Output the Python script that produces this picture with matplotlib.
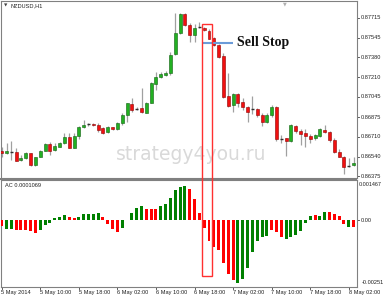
import matplotlib
matplotlib.use("Agg")
import matplotlib.pyplot as plt
from matplotlib.patches import Rectangle

# ---------------------------------------------------------------------------
# Data (NZDUSD H1, 5-8 May 2014)
# ---------------------------------------------------------------------------
opens = [0.86584, 0.86572, 0.86583, 0.86583, 0.86510, 0.86532, 0.86569, 0.86466,
         0.86541, 0.86591, 0.86645, 0.86597, 0.86625, 0.86654, 0.86709, 0.86617,
         0.86715, 0.86789, 0.86814, 0.86814, 0.86808, 0.86780, 0.86752, 0.86789,
         0.86775, 0.86823, 0.86893, 0.86986, 0.86944, 0.86949, 0.86912, 0.86997,
         0.87155, 0.87211, 0.87231, 0.87245, 0.87408, 0.87583, 0.87746, 0.87653,
         0.87569, 0.87635, 0.87631, 0.87603, 0.87541, 0.87484, 0.87391, 0.87053,
         0.86977, 0.87070, 0.87005, 0.86958, 0.86941, 0.86941, 0.86893, 0.86836,
         0.86893, 0.86958, 0.86688, 0.86696, 0.86673, 0.86802, 0.86760, 0.86738,
         0.86718, 0.86696, 0.86718, 0.86766, 0.86752, 0.86682, 0.86583, 0.86541,
         0.86462, 0.86470]
highs = [0.86622, 0.86659, 0.86676, 0.86611, 0.86555, 0.86578, 0.86574, 0.86541,
         0.86597, 0.86654, 0.86667, 0.86654, 0.86667, 0.86738, 0.86738, 0.86743,
         0.86800, 0.86851, 0.86828, 0.86825, 0.86823, 0.86794, 0.86800, 0.86794,
         0.86836, 0.86907, 0.86997, 0.87034, 0.86958, 0.87118, 0.87005, 0.87174,
         0.87259, 0.87259, 0.87265, 0.87428, 0.87757, 0.87757, 0.87757, 0.87668,
         0.87662, 0.87681, 0.87639, 0.87617, 0.87549, 0.87493, 0.87414, 0.87245,
         0.87081, 0.87076, 0.87034, 0.86969, 0.87053, 0.86949, 0.86907, 0.86907,
         0.86977, 0.86969, 0.86724, 0.86701, 0.86817, 0.86808, 0.86772, 0.86772,
         0.86732, 0.86732, 0.86780, 0.86808, 0.86760, 0.86696, 0.86603, 0.86547,
         0.86527, 0.86535]
lows = [0.86538, 0.86563, 0.86513, 0.86504, 0.86504, 0.86524, 0.86464, 0.86459,
        0.86535, 0.86586, 0.86555, 0.86591, 0.86620, 0.86648, 0.86611, 0.86611,
        0.86690, 0.86780, 0.86802, 0.86800, 0.86752, 0.86732, 0.86738, 0.86766,
        0.86766, 0.86808, 0.86836, 0.86921, 0.86935, 0.86912, 0.86907, 0.86992,
        0.87104, 0.87203, 0.87222, 0.87231, 0.87400, 0.87577, 0.87645, 0.87512,
        0.87512, 0.87631, 0.87605, 0.87533, 0.87478, 0.87372, 0.87034, 0.86958,
        0.86921, 0.86963, 0.86935, 0.86836, 0.86901, 0.86878, 0.86800, 0.86828,
        0.86878, 0.86676, 0.86654, 0.86549, 0.86667, 0.86743, 0.86639, 0.86620,
        0.86654, 0.86682, 0.86709, 0.86738, 0.86667, 0.86575, 0.86535, 0.86392,
        0.86456, 0.86462]
closes = [0.86568, 0.86584, 0.86583, 0.86507, 0.86532, 0.86569, 0.86470, 0.86535,
          0.86589, 0.86645, 0.86591, 0.86631, 0.86659, 0.86709, 0.86617, 0.86715,
          0.86794, 0.86808, 0.86814, 0.86808, 0.86766, 0.86743, 0.86789, 0.86775,
          0.86828, 0.86893, 0.86992, 0.86935, 0.86944, 0.86916, 0.86997, 0.87161,
          0.87217, 0.87237, 0.87245, 0.87400, 0.87583, 0.87746, 0.87653, 0.87569,
          0.87625, 0.87635, 0.87611, 0.87535, 0.87484, 0.87385, 0.87047, 0.86969,
          0.87070, 0.86997, 0.86958, 0.86921, 0.86941, 0.86893, 0.86836, 0.86893,
          0.86958, 0.86688, 0.86688, 0.86673, 0.86808, 0.86760, 0.86732, 0.86718,
          0.86688, 0.86724, 0.86772, 0.86752, 0.86682, 0.86583, 0.86541, 0.86456,
          0.86462, 0.86490]

# Accelerator Oscillator values and bar colours (g = up, r = down)
ac_values = [-0.000228, -0.000329, -0.000329, -0.000355, -0.000355, -0.000355,
             -0.000418, -0.000481, -0.000380, -0.000190, -0.000101, 0.000089,
             0.000139, 0.000190, 0.000139, 0.000089, 0.000114, 0.000241,
             0.000241, 0.000253, 0.000266, 0.000127, -0.000127, -0.000317,
             -0.000443, -0.000291, 0.000013, 0.000279, 0.000469, 0.000557,
             0.000431, 0.000418, 0.000418, 0.000532, 0.000621, 0.000849,
             0.001140, 0.001267, 0.001305, 0.001178, 0.000785, 0.000279,
             -0.000291, -0.000773, -0.001026, -0.001140, -0.001622, -0.002027,
             -0.002255, -0.002382, -0.002230, -0.001786, -0.001204, -0.000773,
             -0.000634, -0.000583, -0.000355, -0.000456, -0.000634, -0.000697,
             -0.000634, -0.000545, -0.000418, -0.000101, 0.000177, 0.000215,
             0.000177, 0.000304, 0.000317, 0.000253, 0.000152, -0.000127,
             -0.000253, -0.000253]
ac_colors = "rggrrrrrggggggrrgggggrrrrgggggrrrggggggrrrrrrrrrrgggggggrrrggggggrggrrrrg"

time_labels = ["5 May 2014", "5 May 10:00", "5 May 18:00", "6 May 02:00",
               "6 May 10:00", "6 May 18:00", "7 May 02:00", "7 May 10:00",
               "7 May 18:00", "8 May 02:00"]
time_label_bars = [0, 8, 16, 24, 32, 40, 48, 56, 64, 72]

price_ticks = [0.87715, 0.87545, 0.87380, 0.87210, 0.87045, 0.86875,
               0.86710, 0.86540, 0.86375]

sell_stop_price = 0.87504
sell_stop_bars = (41.7, 48.0)
box_bars = (41.5, 43.7)
box_top_price = 0.87659
box_bottom_ac = -0.002098

# ---------------------------------------------------------------------------
# Style
# ---------------------------------------------------------------------------
W, H = 383, 300
GREEN_BODY = "#22b022"
GREEN_EDGE = "#106010"
RED_BODY = "#f01010"
RED_EDGE = "#900000"
WICK = "#a0a0a0"
FRAME = "#808080"
AC_GREEN = "#008000"
AC_RED = "#ff0000"
AX_FONT = dict(fontsize=4.1, family="Liberation Sans", color="#202020")


def px_rect(x0, y0, x1, y1):
    """pixel box (top-left origin) -> figure fraction rect"""
    return [x0 / W, 1 - y1 / H, (x1 - x0) / W, (y1 - y0) / H]


fig = plt.figure(figsize=(W / 100, H / 100), dpi=100)
fig.patch.set_facecolor("white")

ax = fig.add_axes(px_rect(1, 1, 357, 178))
ax2 = fig.add_axes(px_rect(1, 180, 357, 287))

n = len(opens)
xs = list(range(n))
x_lo, x_hi = -0.145, 73.7

# ---------------------------------------------------------------------------
# Candles
# ---------------------------------------------------------------------------
for i in xs:
    o, h, l, c = opens[i], highs[i], lows[i], closes[i]
    ax.vlines(i, l, h, color=WICK, lw=0.9, zorder=2)
    if abs(c - o) < 1e-6:
        ax.hlines(o, i - 0.32, i + 0.32, color="#303030", lw=1.0, zorder=3)
        continue
    up = c > o
    ax.bar(i, abs(c - o), bottom=min(o, c), width=0.62,
           color=GREEN_BODY if up else RED_BODY,
           edgecolor=GREEN_EDGE if up else RED_EDGE, linewidth=0.4, zorder=3)

ax.set_xlim(x_lo, x_hi)
ax.set_ylim(0.86360, 0.87856)

# ---------------------------------------------------------------------------
# AC histogram
# ---------------------------------------------------------------------------
ax2.bar(xs, ac_values, width=0.62,
        color=[AC_GREEN if ch == "g" else AC_RED for ch in ac_colors],
        linewidth=0, zorder=3)
ax2.set_xlim(x_lo, x_hi)
ax2.set_ylim(-0.00252, 0.00152)

for a in (ax, ax2):
    a.set_xticks([])
    a.set_yticks([])
    for s in a.spines.values():
        s.set_color(FRAME)
        s.set_linewidth(0.8)

# separator band between panels
fig.add_artist(Rectangle((0, 1 - 180 / H), 357 / W, 2.2 / H,
                         transform=fig.transFigure, facecolor="#808080",
                         edgecolor="none"))

# ---------------------------------------------------------------------------
# Axis labels (MT4 style)
# ---------------------------------------------------------------------------
for p in price_ticks:
    ax.plot([x_hi, x_hi + 0.5], [p, p], color="#404040", lw=0.6,
            clip_on=False)
    ax.text(x_hi + 0.75, p, f"{p:.5f}", ha="left", va="center",
            clip_on=False, **AX_FONT)

ax2.text(1.006, 0.98, "0.001467", transform=ax2.transAxes,
         ha="left", va="top", **dict(AX_FONT, fontsize=3.9))
ax2.text(x_hi + 0.75, 0.0, "0.00", ha="left", va="center", clip_on=False,
         **AX_FONT)
ax2.plot([x_hi, x_hi + 0.5], [0, 0], color="#404040", lw=0.6, clip_on=False)
ax2.text(1.012, 0.02, "-0.002518", transform=ax2.transAxes,
         ha="left", va="bottom", **AX_FONT)

for b, lab in zip(time_label_bars, time_labels):
    ax2.plot([b, b], [-0.00252, -0.00252 - 0.00006], color="#404040",
             lw=0.6, clip_on=False)
    ax2.text(b - 0.05, -0.00252 - 0.00012, lab, ha="left", va="top",
             clip_on=False, **AX_FONT)

ax.text(0.008, 0.985, "\u25bc", transform=ax.transAxes, fontsize=3.2,
        color="#404040", ha="left", va="top")
ax.text(0.028, 0.985, "NZDUSD,H1", transform=ax.transAxes, ha="left",
        va="top", **AX_FONT)
ax.text(0.797, 1.0, "\u25bc", transform=ax.transAxes, fontsize=3.5,
        color="#b0b0b0", ha="center", va="top")
ax2.text(0.01, 0.97, "AC 0.0001069", transform=ax2.transAxes, ha="left",
         va="top", **AX_FONT)

# watermark
ax.text(0.535, 0.135, "strategy4you.ru", transform=ax.transAxes,
        fontsize=13.5, color="#d9d9d9", ha="center", va="center", zorder=1)

# ---------------------------------------------------------------------------
# Sell Stop annotation and highlight box
# ---------------------------------------------------------------------------
ax.plot(sell_stop_bars, [sell_stop_price] * 2, color="#6b9bd8", lw=1.5,
        zorder=4, solid_capstyle="butt")
ax.text(48.75, sell_stop_price, "Sell Stop", fontsize=10, fontweight="bold",
        family="Liberation Serif", color="#101010", ha="left", va="center",
        zorder=5)

fig.canvas.draw()
x0_px, y_top = ax.transData.transform((box_bars[0], box_top_price))
x1_px, y_bot = ax2.transData.transform((box_bars[1], box_bottom_ac))
fig.add_artist(Rectangle((x0_px / fig.bbox.width, y_bot / fig.bbox.height),
                         (x1_px - x0_px) / fig.bbox.width,
                         (y_top - y_bot) / fig.bbox.height,
                         transform=fig.transFigure, fill=False,
                         edgecolor="#ff3030", linewidth=1.0, zorder=10))

fig.savefig("out.png", dpi=100)
